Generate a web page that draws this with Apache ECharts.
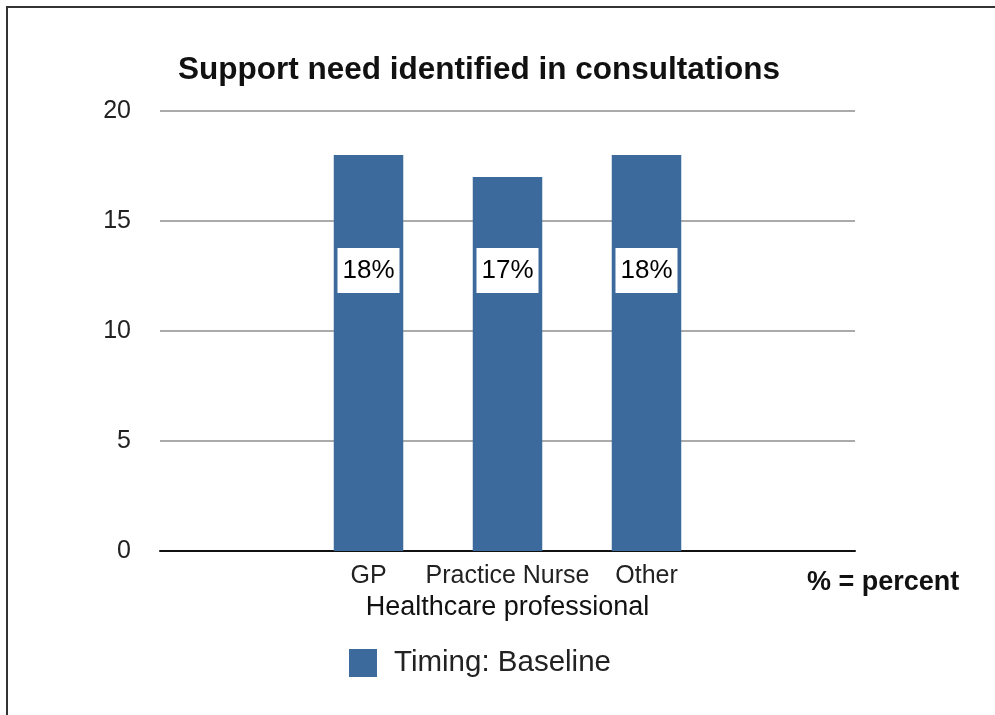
<!DOCTYPE html>
<html><head><meta charset="utf-8">
<script src="https://cdn.jsdelivr.net/npm/echarts@6/dist/echarts.min.js"></script>
<style>html,body{margin:0;padding:0;background:#fff}#c{width:995px;height:715px}</style>
</head><body><div id="c"></div>
<script>
var categories = ['', 'GP', 'Practice Nurse', 'Other', ''];
var values = ['-', 18, 17, 18, '-'];
var labels = ['', '18%', '17%', '18%', ''];
var yTicks = [0, 5, 10, 15, 20];
var seriesName = 'Timing: Baseline';
var FONT = '"Liberation Sans", Arial, Helvetica, sans-serif';
var chart = echarts.init(document.getElementById('c'), null, {renderer: 'canvas'});
chart.setOption({
  animation: false,
  backgroundColor: '#fff',
  graphic: [{type: 'rect', shape: {x: 7, y: 7, width: 1000, height: 720}, style: {fill: 'none', stroke: '#333', lineWidth: 2}, z: -1}],
  title: {text: 'Support need identified in consultations', left: 173, top: 49,
    textStyle: {fontFamily: FONT, fontSize: 31.5, fontWeight: 'bold', color: '#111'}},
  legend: {bottom: 32, left: 344, itemWidth: 28, itemHeight: 28, itemGap: 10,
    textStyle: {fontFamily: FONT, fontSize: 29.5, color: '#222', padding: [0, 0, 0, 12]},
    data: [{name: seriesName, icon: 'rect'}]},
  grid: {left: 160, right: 140, top: 111, bottom: 164, containLabel: false},
  xAxis: {type: 'category', data: categories, name: 'Healthcare professional', nameLocation: 'middle', nameGap: 42,
    nameTextStyle: {fontFamily: FONT, fontSize: 27, color: '#111'},
    axisLine: {lineStyle: {color: '#111', width: 2}}, axisTick: {show: false},
    axisLabel: {fontFamily: FONT, fontSize: 25, color: '#222', margin: 13, interval: 0}},
  yAxis: {type: 'value', min: yTicks[0], max: yTicks[yTicks.length - 1], interval: 5,
    axisLine: {show: false}, axisTick: {show: false},
    splitLine: {lineStyle: {color: '#aaa', width: 2}},
    axisLabel: {fontFamily: FONT, fontSize: 25, color: '#222', margin: 29}},
  series: [{name: seriesName, type: 'bar', data: values, barWidth: '50%',
    itemStyle: {color: '#3c6a9c'},
    label: {show: true, position: 'insideBottom', distance: 258,
      formatter: function (p) { return labels[p.dataIndex]; },
      fontFamily: FONT, fontSize: 26, lineHeight: 29, color: '#000', backgroundColor: '#fff', padding: [8, 5]}}]
});
var zr = chart.getZr();
zr.add(new echarts.graphic.Text({style: {text: '% = percent', x: 807, y: 583, fontFamily: FONT, fontSize: 27, fontWeight: 'bold', fill: '#111', verticalAlign: 'middle'}}));
</script></body></html>
